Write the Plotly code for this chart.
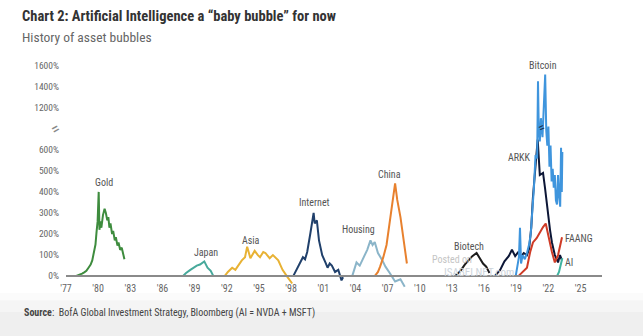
import plotly.graph_objects as go

# ---- series data: (year, % gain from the start of each bubble) ----
gold_x = [1977.9, 1978.2, 1978.5, 1978.7, 1978.9, 1979.1, 1979.3, 1979.45, 1979.6, 1979.75,
          1979.85, 1979.95, 1980.05, 1980.12, 1980.2, 1980.3, 1980.45, 1980.6, 1980.72, 1980.85,
          1980.95, 1981.05, 1981.15, 1981.3, 1981.4, 1981.55, 1981.65, 1981.8, 1981.9, 1982.05,
          1982.2, 1982.35, 1982.45]
gold_y = [0, 5, 12, 18, 25, 40, 55, 75, 110, 150,
          210, 260, 400, 220, 260, 230, 290, 320, 300, 265,
          280, 230, 250, 200, 215, 170, 185, 145, 160, 125,
          135, 95, 80]

japan_x = [1987.9, 1988.2, 1988.6, 1988.9, 1989.2, 1989.5, 1989.9, 1990.2, 1990.5, 1990.75]
japan_y = [0, 15, 30, 40, 50, 55, 70, 40, 25, 0]

asia_x = [1991.8, 1992.1, 1992.5, 1992.8, 1993.0, 1993.4, 1993.7, 1993.9, 1994.2, 1994.6,
          1994.9, 1995.1, 1995.4, 1995.6, 1996.0, 1996.3, 1996.8, 1997.2, 1997.6, 1997.9, 1998.1]
asia_y = [0, 20, 40, 30, 45, 75, 90, 140, 85, 120,
          100, 90, 115, 110, 85, 100, 75, 30, 0, -20, -35]

internet_x = [1998.2, 1998.5, 1998.8, 1999.1, 1999.3, 1999.5, 1999.8, 2000.0, 2000.1, 2000.2,
              2000.4, 2000.6, 2000.9, 2001.2, 2001.4, 2001.6, 2001.8, 2002.1, 2002.4, 2002.7, 2002.85]
internet_y = [0, 30, 65, 90, 80, 115, 205, 260, 300, 250,
              265, 170, 100, 65, 40, 60, 50, 20, 30, -20, -5]

housing_x = [2003.7, 2003.9, 2004.1, 2004.4, 2004.7, 2005.1, 2005.4, 2005.6, 2005.8, 2006.1,
             2006.5, 2006.8, 2007.2, 2007.7, 2008.2, 2008.6]
housing_y = [0, 35, 65, 50, 85, 125, 170, 148, 162, 110,
             76, 45, 15, -25, -15, -50]

china_x = [2005.8, 2006.1, 2006.3, 2006.6, 2006.9, 2007.2, 2007.5, 2007.7, 2007.9, 2008.2,
           2008.5, 2008.8]
china_y = [0, 20, 45, 90, 148, 250, 350, 440, 362, 280,
           170, 60]

biotech_x = [2013.3, 2013.8, 2014.2, 2014.6, 2014.9, 2015.3, 2015.6, 2015.9, 2016.2, 2016.5]
biotech_y = [0, 25, 55, 75, 95, 110, 85, 60, 45, 15]

arkk_x = [2017.0, 2017.5, 2017.9, 2018.3, 2018.6, 2018.9, 2019.2, 2019.4, 2019.7, 2020.0,
          2020.2, 2020.4, 2020.55, 2020.75, 2020.9, 2021.0, 2021.2, 2021.5, 2021.68, 2021.96,
          2022.15, 2022.33, 2022.6, 2022.9, 2023.08, 2023.27]
arkk_y = [0, 30, 70, 95, 125, 95, 115, 90, 110, 100,
          130, 230, 370, 495, 600, 648, 480, 490, 420, 290,
          220, 160, 100, 65, 100, 75]

bitcoin_x = [2018.95, 2019.1, 2019.25, 2019.35, 2019.45, 2019.6, 2019.8, 2020.0, 2020.2, 2020.35,
             2020.5, 2020.65, 2020.8, 2020.95, 2021.03, 2021.1, 2021.2, 2021.3, 2021.45, 2021.6,
             2021.7, 2021.8, 2021.9, 2022.0, 2022.1, 2022.2, 2022.3, 2022.4, 2022.5, 2022.6,
             2022.7, 2022.8, 2022.9, 2023.0, 2023.1, 2023.18, 2023.25, 2023.3]
bitcoin_y = [0, 40, 90, 230, 60, 100, 80, 110, 150, 200,
             300, 420, 575, 560, 1450, 700, 640, 1100, 660, 1300,
             1515, 690, 620, 1020, 520, 620, 450, 510, 420, 480,
             360, 340, 480, 380, 330, 610, 400, 590]

faang_x = [2019.2, 2019.6, 2020.0, 2020.3, 2020.56, 2020.9, 2021.2, 2021.5, 2021.75, 2021.96,
           2022.33, 2022.6, 2022.9, 2023.27]
faang_y = [0, 20, 40, 115, 160, 180, 210, 233, 250, 195,
           115, 65, 100, 185]

ai_x = [2022.8, 2022.99, 2023.18, 2023.3]
ai_y = [0, 20, 60, 85]

series = [
    ("Gold", gold_x, gold_y, "#3e8c3e"),
    ("Japan", japan_x, japan_y, "#47a99b"),
    ("Asia", asia_x, asia_y, "#e8b234"),
    ("Internet", internet_x, internet_y, "#20406b"),
    ("Housing", housing_x, housing_y, "#8bb5c9"),
    ("China", china_x, china_y, "#e8812e"),
    ("Biotech", biotech_x, biotech_y, "#1c1c1c"),
    ("ARKK", arkk_x, arkk_y, "#0c1636"),
    ("Bitcoin", bitcoin_x, bitcoin_y, "#3f95dd"),
    ("FAANG", faang_x, faang_y, "#cf3b26"),
    ("AI", ai_x, ai_y, "#3fb3a0"),
]

# series label positions: (name, year, value %)
label_pos = [
    ("Gold", 1980.55, 445), ("Japan", 1990.06, 110), ("Asia", 1994.3, 171),
    ("Internet", 2000.2, 350), ("Housing", 2004.24, 220), ("China", 2007.2, 481),
    ("Biotech", 2014.6, 143), ("ARKK", 2019.35, 562), ("Bitcoin", 2021.5, 1600),
    ("FAANG", 2024.9, 181), ("AI", 2023.9, 67),
]

x_ticks = list(range(1977, 2026, 3))
x_ticktext = ["'" + str(y)[2:] for y in x_ticks]
y_ticks_pct = [0, 100, 200, 300, 400, 500, 600, 1200, 1400, 1600]

# broken value axis: linear up to 700%, values >= 1000% drawn at half scale above the break
BREAK_LO, BREAK_HI = 700, 1000


def axis_pos(v):
    if v <= BREAK_LO:
        return v
    return BREAK_LO + max(v - BREAK_HI, 0) / 2


FONT = "Liberation Sans Narrow, Arial Narrow, Roboto Condensed, Roboto, sans-serif"

fig = go.Figure()
for name, xs, ys, color in series:
    fig.add_trace(go.Scatter(
        x=xs, y=[axis_pos(v) for v in ys], mode="lines", name=name,
        line=dict(color=color, width=2), showlegend=False,
    ))

annotations = []
for name, yr, val in label_pos:
    annotations.append(dict(x=yr, y=axis_pos(val), text=name, showarrow=False,
                            font=dict(size=10, color="#555555", family=FONT),
                            xanchor="center", yanchor="middle"))

# break marks: on the value axis and across the Bitcoin line
annotations.append(dict(xref="paper", x=-0.042, y=BREAK_LO, text="=", textangle=-30,
                        showarrow=False, font=dict(size=17, color="#888888", family=FONT)))
annotations.append(dict(x=2021.35, y=BREAK_LO + 8, text="=", textangle=-25,
                        showarrow=False, font=dict(size=13, color="#1b3050", family=FONT)))

# titles, source and the site credit
annotations += [
    dict(xref="paper", yref="paper", x=-0.0858, y=1.16, xanchor="left", yanchor="middle",
         text="<b>Chart 2: Artificial Intelligence a “baby bubble” for now</b>", showarrow=False,
         font=dict(size=14.5, color="#333333", family=FONT)),
    dict(xref="paper", yref="paper", x=-0.0858, y=1.076, xanchor="left", yanchor="middle",
         text="History of asset bubbles", showarrow=False,
         font=dict(size=13.5, color="#666666", family=FONT)),
    dict(xref="paper", yref="paper", x=-0.082, y=-0.084, xanchor="left", yanchor="middle",
         text="<b>Source</b>:  BofA Global Investment Strategy, Bloomberg (AI = NVDA + MSFT)",
         showarrow=False, font=dict(size=10, color="#444444", family=FONT)),
    dict(xref="paper", yref="paper", x=0.72, y=0.139, xanchor="center", yanchor="middle",
         text="Posted on", showarrow=False, font=dict(size=10, color="#c4c4c4", family=FONT)),
    dict(xref="paper", yref="paper", x=0.77, y=0.088, xanchor="center", yanchor="middle",
         text="ISABELNET.com", showarrow=False, font=dict(size=11, color="#cdd4db", family=FONT)),
]

# soft grey band behind the source line
shapes = []
band = [(-0.03, 0.0, "#fbfbfb"), (-0.08, -0.03, "#f5f5f5"), (-0.19, -0.08, "#efefef")]
for y0, y1, col in band:
    shapes.append(dict(type="rect", xref="paper", yref="paper", x0=-0.2, x1=1.1,
                       y0=y0, y1=y1, fillcolor=col, line=dict(width=0), layer="below"))

fig.update_layout(
    width=643, height=336,
    margin=dict(l=66, r=41, t=55, b=43),
    paper_bgcolor="white", plot_bgcolor="rgba(0,0,0,0)",
    annotations=annotations, shapes=shapes,
    xaxis=dict(range=[1977, 2027], tickvals=x_ticks, ticktext=x_ticktext,
               showgrid=False, zeroline=False, showline=True, linecolor="#8a8a8a",
               linewidth=1.5, ticks="", anchor="free", position=80 / 1130,
               tickfont=dict(size=10, color="#666666", family=FONT), ticklabelstandoff=3),
    yaxis=dict(range=[-80, 1050], tickvals=[axis_pos(v) for v in y_ticks_pct],
               ticktext=[f"{v}%" for v in y_ticks_pct], showgrid=False, zeroline=False,
               showline=False, ticks="", ticklabelstandoff=6,
               tickfont=dict(size=9.5, color="#666666", family=FONT)),
)

fig.write_html("out.html")
